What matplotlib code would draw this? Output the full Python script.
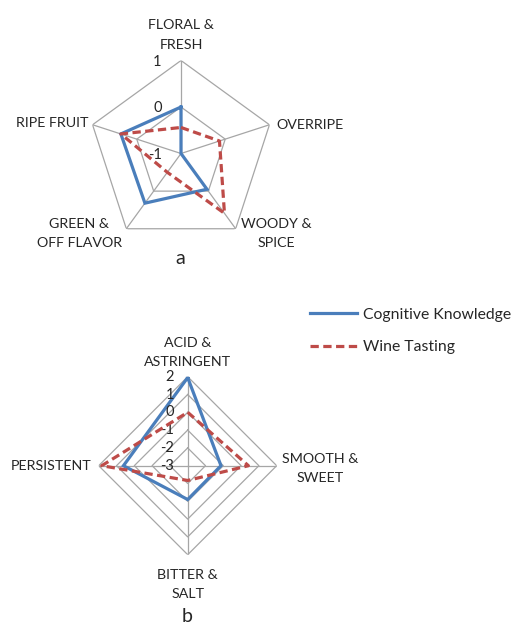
import numpy as np
import matplotlib
matplotlib.use("Agg")
import matplotlib.pyplot as plt

plt.rcParams['font.family'] = ['Lato', 'DejaVu Sans']

# ---- data ----
cats_a = ["FLORAL &\nFRESH", "OVERRIPE", "WOODY &\nSPICE", "GREEN &\nOFF FLAVOR", "RIPE FRUIT"]
cog_a = [0.0, -1.0, -0.05, 0.32, 0.36]
wine_a = [-0.44, -0.13, 0.59, -0.5, 0.36]
ticks_a = [-1, 0, 1]

cats_b = ["ACID &\nASTRINGENT", "SMOOTH &\nSWEET", "BITTER &\nSALT", "PERSISTENT"]
cog_b = [1.95, -1.13, -1.1, 0.61]
wine_b = [0.0, 0.41, -2.17, 1.83]
ticks_b = [-3, -2, -1, 0, 1, 2]

series_names = ["Cognitive Knowledge", "Wine Tasting"]
BLUE = "#4A7EBB"
RED = "#BE4B48"
GRID = "#A6A6A6"
TXT = "#262626"

W, H = 514, 626
fig = plt.figure(figsize=(W / 100, H / 100), dpi=100)


def radar(rect, cats, s1, s2, ticks, label_specs, tick_dx, tick_dy, tick_fs):
    ax = fig.add_axes(rect, projection='polar')
    n = len(cats)
    ang = np.pi / 2 - np.arange(n) * 2 * np.pi / n
    angc = np.append(ang, ang[0])
    ax.set_ylim(ticks[0], ticks[-1])
    ax.set_theta_zero_location('E')
    ax.grid(False)
    ax.set_xticks([])
    ax.set_yticks([])
    ax.spines['polar'].set_visible(False)
    ax.patch.set_alpha(0)
    for t in ticks[1:]:
        ax.plot(angc, [t] * (n + 1), color=GRID, lw=0.9, zorder=1)
    for a in ang:
        ax.plot([a, a], [ticks[0], ticks[-1]], color=GRID, lw=0.9, zorder=1)
    l1, = ax.plot(angc, list(s1) + [s1[0]], color=BLUE, lw=2.3, zorder=3,
                  label=series_names[0], solid_joinstyle='miter')
    l2, = ax.plot(angc, list(s2) + [s2[0]], color=RED, lw=2.3, zorder=4,
                  linestyle=(0, (2.6, 1.4)), label=series_names[1])
    for t in ticks:
        ax.annotate(str(t), xy=(ang[0], t), xytext=(tick_dx, tick_dy), textcoords='offset points',
                    ha='right', va='center', fontsize=tick_fs, color=TXT, annotation_clip=False)
    for a, c, (dx, dy, ha, va) in zip(ang, cats, label_specs):
        ax.annotate(c, xy=(a, ticks[-1]), xytext=(dx, dy), textcoords='offset points',
                    ha=ha, va=va, fontsize=10.3, color=TXT, linespacing=1.75,
                    multialignment='center', annotation_clip=False)
    return ax, l1, l2


# chart a
ca = (181, 153.5); Ra = 93
rect_a = [(ca[0] - Ra) / W, 1 - (ca[1] + Ra) / H, 2 * Ra / W, 2 * Ra / H]
specs_a = [(0, 7, 'center', 'bottom'),
           (5, 0, 'left', 'center'),
           (29, 8, 'center', 'top'),
           (-34, 8, 'center', 'top'),
           (-3, 1, 'right', 'center')]
radar(rect_a, cats_a, cog_a, wine_a, ticks_a, specs_a, -14, -1, 10.5)

# chart b
cb = (187.7, 465.7); Rb = 89
rect_b = [(cb[0] - Rb) / W, 1 - (cb[1] + Rb) / H, 2 * Rb / W, 2 * Rb / H]
specs_b = [(0, 6, 'center', 'bottom'),
           (4, -2, 'left', 'center'),
           (0, -10, 'center', 'top'),
           (-5, 0, 'right', 'center')]
axb, l1, l2 = radar(rect_b, cats_b, cog_b, wine_b, ticks_b, specs_b, -10, 0, 10.5)

fig.text(180 / W, 1 - 258 / H, "a", ha='center', va='center', fontsize=14, color=TXT)
fig.text(187 / W, 1 - 616 / H, "b", ha='center', va='center', fontsize=14, color=TXT)

fig.legend(handles=[l1, l2], loc='upper left', bbox_to_anchor=(308 / W, 1 - 306 / H),
           frameon=False, fontsize=11.3, handlelength=3.0, handletextpad=0.4,
           labelspacing=1.2, borderaxespad=0, borderpad=0.1, labelcolor=TXT)

fig.savefig("out.png", dpi=100, facecolor='white')
